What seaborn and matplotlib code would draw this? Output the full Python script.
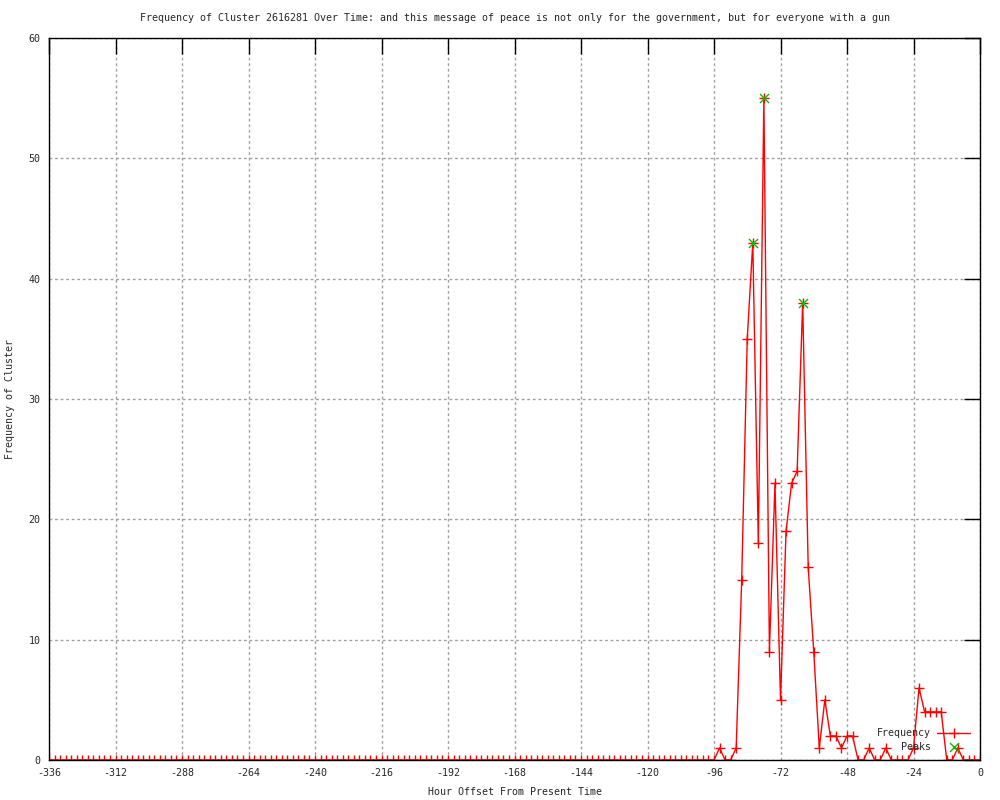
import matplotlib
matplotlib.use("Agg")
import matplotlib.pyplot as plt
import numpy as np
import seaborn as sns

# hour offsets, one sample every 2 hours
hours = np.arange(-336, 2, 2)

# frequency per 2-hour bin, -336 .. 0
freq = [
    0, 0, 0, 0, 0, 0, 0, 0, 0, 0, 0, 0, 0, 0, 0, 0, 0, 0, 0, 0,
    0, 0, 0, 0, 0, 0, 0, 0, 0, 0, 0, 0, 0, 0, 0, 0, 0, 0, 0, 0,
    0, 0, 0, 0, 0, 0, 0, 0, 0, 0, 0, 0, 0, 0, 0, 0, 0, 0, 0, 0,
    0, 0, 0, 0, 0, 0, 0, 0, 0, 0, 0, 0, 0, 0, 0, 0, 0, 0, 0, 0,
    0, 0, 0, 0, 0, 0, 0, 0, 0, 0, 0, 0, 0, 0, 0, 0, 0, 0, 0, 0,
    0, 0, 0, 0, 0, 0, 0, 0, 0, 0, 0, 0, 0, 0, 0, 0, 0, 0, 0, 0,
    0,                                   # -96
    1, 0, 0, 1, 15, 35, 43, 18, 55, 9,   # -94 .. -76
    23, 5, 19, 23, 24, 38, 16, 9, 1, 5,  # -74 .. -56
    2, 2, 1, 2, 2, 0, 0, 1, 0, 0,        # -54 .. -36
    1, 0, 0, 0, 0, 1, 6, 4, 4, 4,        # -34 .. -16
    4, 0, 0, 1, 0, 0, 0, 0,              # -14 .. 0
]

peak_hours = [-82, -78, -64]
peak_vals = [43, 55, 38]

title = ("Frequency of Cluster 2616281 Over Time: and this message of peace "
         "is not only for the government, but for everyone with a gun")

sns.set_style("white")
plt.rcParams["font.family"] = ["DejaVu Sans Mono"]
plt.rcParams["axes.unicode_minus"] = False
fs = 7.2

fig = plt.figure(figsize=(10, 8), dpi=100)
ax = fig.add_axes([0.049, 0.05, 0.931, 0.9025])

sns.lineplot(x=hours, y=freq, ax=ax, color="red", linewidth=1,
             marker="+", markersize=6.5, markeredgewidth=1,
             markeredgecolor="red", label="Frequency")
sns.scatterplot(x=peak_hours, y=peak_vals, ax=ax, color="#00c000",
                marker="x", s=42, linewidth=1, label="Peaks", zorder=5)

ax.set_xlim(-336, 0)
ax.set_ylim(0, 60)
ax.set_xticks(np.arange(-336, 1, 24))
ax.set_yticks(np.arange(0, 61, 10))
ax.grid(True, color="#a0a0a0", linestyle=(0, (2, 2)), linewidth=1)
ax.set_axisbelow(True)
for s in ax.spines.values():
    s.set_color("black")
    s.set_linewidth(1)
ax.tick_params(axis="both", direction="in", length=11.5, width=1, color="black",
               labelsize=fs, top=True, right=True)
ax.tick_params(axis="x", pad=6)
ax.tick_params(axis="y", pad=6)

ax.set_title(title, fontsize=fs, pad=12)
ax.set_xlabel("Hour Offset From Present Time", fontsize=fs, labelpad=6)
ax.set_ylabel("Frequency of Cluster", fontsize=fs, labelpad=10)

ax.legend(loc="upper right", bbox_to_anchor=(0.995, 0.051), frameon=False,
          markerfirst=False, fontsize=fs, handlelength=3.3, labelspacing=0.35,
          borderpad=0, handletextpad=0.6)

fig.savefig("out.png", dpi=100)
